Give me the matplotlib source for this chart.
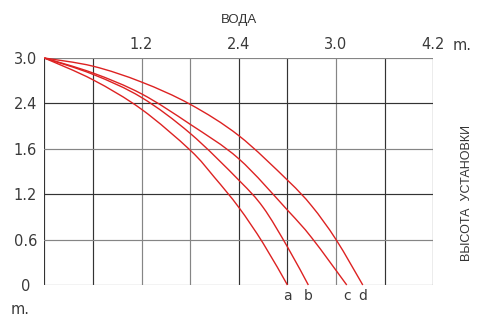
import matplotlib
matplotlib.use("Agg")
import matplotlib.pyplot as plt
from matplotlib.path import Path
from matplotlib.patches import PathPatch

# curves traced in grid units (8 columns x 5 rows)
A_X = [0, 1, 2, 3, 3.5, 4, 4.5, 5]
A_Y = [5, 4.52, 3.87, 2.97, 2.37, 1.71, 0.92, 0]
B_X = [0, 1, 2, 3, 4, 4.5, 5, 5.43]
B_Y = [5, 4.64, 4.13, 3.34, 2.31, 1.71, 0.84, 0]
C_X = [0, 1, 2, 3, 4, 5, 5.5, 6.22]
C_Y = [5, 4.67, 4.21, 3.54, 2.78, 1.65, 1.04, 0]
D_X = [0, 1, 2, 3, 4, 5, 5.5, 6, 6.55]
D_Y = [5, 4.82, 4.47, 3.98, 3.29, 2.31, 1.74, 1.0, 0]
CURVE_NAMES = ["a", "b", "c", "d"]

XTICKS = [2, 4, 6, 8]
XLABELS = ["1.2", "2.4", "3.0", "4.2"]
YTICKS = [0, 1, 2, 3, 4, 5]
YLABELS = ["0", "0.6", "1.2", "1.6", "2.4", "3.0"]

DARK = "#333333"
GRAY = "#858585"
RED = "#dd2222"


def smooth_path(xs, ys):
    # catmull-rom through the traced points, drawn as cubic bezier segments
    pts = list(zip(xs, ys))
    verts = [pts[0]]
    codes = [Path.MOVETO]
    n = len(pts)
    for i in range(n - 1):
        p0 = pts[i - 1] if i > 0 else pts[i]
        p1 = pts[i]
        p2 = pts[i + 1]
        p3 = pts[i + 2] if i + 2 < n else pts[i + 1]
        c1 = (p1[0] + (p2[0] - p0[0]) / 6, p1[1] + (p2[1] - p0[1]) / 6)
        c2 = (p2[0] - (p3[0] - p1[0]) / 6, p2[1] - (p3[1] - p1[1]) / 6)
        verts += [c1, c2, p2]
        codes += [Path.CURVE4] * 3
    return Path(verts, codes)


fig = plt.figure(figsize=(4.82, 3.16), dpi=100)
ax = fig.add_axes([44.3 / 482, 1 - 285 / 316, (433.3 - 44.3) / 482, (285 - 58) / 316])
ax.set_xlim(0, 8)
ax.set_ylim(0, 5)
for s in ax.spines.values():
    s.set_visible(False)

vcol = [DARK, DARK, GRAY, GRAY, DARK, DARK, GRAY, DARK, DARK]
hcol = [GRAY, GRAY, DARK, GRAY, DARK, GRAY]
for i, c in enumerate(vcol):
    ax.axvline(i, color=c, lw=0.85, zorder=1)
for i, c in enumerate(hcol):
    ax.axhline(i, color=c, lw=0.85, zorder=1)

curves = [(A_X, A_Y), (B_X, B_Y), (C_X, C_Y), (D_X, D_Y)]
for (xs, ys), name in zip(curves, CURVE_NAMES):
    ax.add_patch(PathPatch(smooth_path(xs, ys), facecolor="none", edgecolor=RED,
                           lw=1.0, zorder=3, clip_on=False))
    ax.annotate(name, (xs[-1], 0), xytext=(0, -8), textcoords="offset points",
                ha="center", va="center", fontsize=10, color="#3a3a3a",
                annotation_clip=False)

ax.xaxis.tick_top()
ax.set_xticks(XTICKS)
ax.set_xticklabels(XLABELS)
ax.set_yticks(YTICKS)
ax.set_yticklabels(YLABELS)
ax.tick_params(axis="x", length=0, pad=4, labelsize=10.5, labelcolor="#3a3a3a")
ax.tick_params(axis="y", length=0, pad=13.5, labelsize=10.5, labelcolor="#3a3a3a")
for lbl in ax.get_yticklabels():
    lbl.set_horizontalalignment("center")

fig.text(462 / 482, 1 - 46 / 316, "m.", fontsize=10.5, color="#3a3a3a",
         ha="center", va="center")
fig.text(20 / 482, 1 - 309 / 316, "m.", fontsize=10.5, color="#3a3a3a",
         ha="center", va="center")
fig.text(239 / 482, 1 - 20 / 316, "ВОДА", fontsize=9.5, color="#333333",
         family="Liberation Sans", ha="center", va="center")
fig.text(467 / 482, 1 - 193 / 316, "ВЫСОТА  УСТАНОВКИ", fontsize=9,
         color="#333333", family="Liberation Sans", rotation=90,
         ha="center", va="center")

fig.savefig("out.png", dpi=100)
plt.close()
